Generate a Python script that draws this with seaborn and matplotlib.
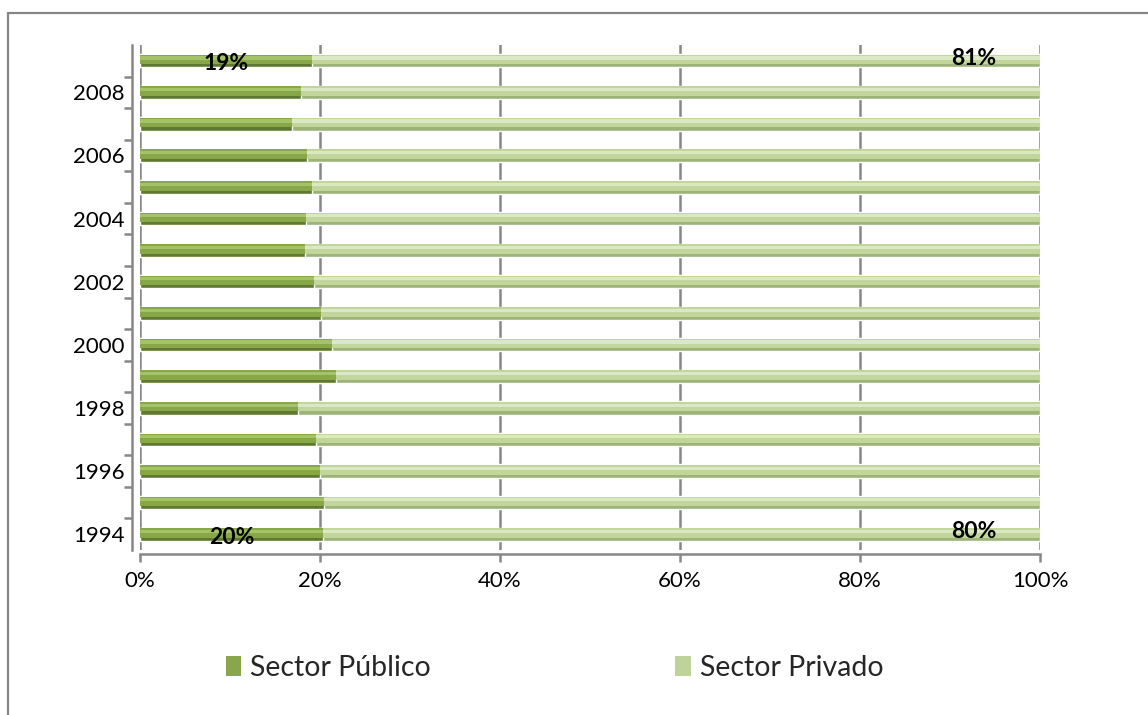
import numpy as np
import pandas as pd
import matplotlib
matplotlib.use("Agg")
import matplotlib.pyplot as plt
from matplotlib.lines import Line2D
from matplotlib.patches import Patch
import seaborn as sns

# Participación por sector (%) 1994-2009
years = [1994, 1995, 1996, 1997, 1998, 1999, 2000, 2001,
         2002, 2003, 2004, 2005, 2006, 2007, 2008, 2009]
publico = [20.3, 20.4, 20.0, 19.6, 17.6, 21.8, 21.3, 20.1,
           19.3, 18.3, 18.4, 19.1, 18.6, 16.9, 17.9, 19.1]
privado = [79.7, 79.6, 80.0, 80.4, 82.4, 78.2, 78.7, 79.9,
           80.7, 81.7, 81.6, 80.9, 81.4, 83.1, 82.1, 80.9]
x_ticks = [0, 20, 40, 60, 80, 100]
labeled_years = [1994, 2009]
series_names = ["Sector Público", "Sector Privado"]

sns.set_theme(style="white")
plt.rcParams["font.family"] = ["Lato", "DejaVu Sans"]

df = pd.DataFrame({"year": [str(y) for y in years],
                   "publico": publico, "privado": privado})
df["total"] = df["publico"] + df["privado"]
order = [str(y) for y in years]

fig = plt.figure(figsize=(11.48, 7.15), dpi=100)
ax = fig.add_axes([140 / 1148, 1 - 550 / 715, 900 / 1148, 505 / 715])

pub_dark, pub_mid, pub_hi = "#5f7a2e", "#87a748", "#a4c266"
pri_dark, pri_mid, pri_hi = "#9db478", "#c2d69c", "#dbe8c4"

bw = 0.42
# stacked 100% bars: full length in private colour, public share on top
sns.barplot(data=df, x="total", y="year", order=order, orient="h",
            color=pri_dark, width=bw, saturation=1, ax=ax, errorbar=None)
sns.barplot(data=df, x="publico", y="year", order=order, orient="h",
            color=pub_dark, width=bw, saturation=1, ax=ax, errorbar=None)

# cylinder-like shading bands
pos = np.arange(len(years))
tot = np.array(df["total"])
pub = np.array(publico)
ax.barh(pos + 0.04, tot - pub, left=pub, height=0.30, color=pri_mid, lw=0)
ax.barh(pos + 0.09, tot - pub, left=pub, height=0.10, color=pri_hi, lw=0)
ax.barh(pos + 0.04, pub, height=0.30, color=pub_mid, lw=0)
ax.barh(pos + 0.09, pub, height=0.10, color=pub_hi, lw=0)

ax.set_xlim(0, 100)
ax.set_ylim(-0.5, len(years) - 0.5)

grid_c = "#878787"
ax.set_xticks(x_ticks)
ax.set_xticklabels([f"{t}%" for t in x_ticks])
ax.xaxis.grid(True, color=grid_c, lw=1.8)
ax.yaxis.grid(False)
ax.set_axisbelow(True)

ax.set_yticks(pos[::2])
ax.set_yticklabels([str(y) for y in years[::2]])
ax.set_yticks(pos[:-1] + 0.5, minor=True)

for s in ["top", "right"]:
    ax.spines[s].set_visible(False)
for s in ["left", "bottom"]:
    ax.spines[s].set_color(grid_c)
    ax.spines[s].set_linewidth(1.8)
ax.spines["left"].set_position(("outward", 6))
ax.spines["bottom"].set_position(("outward", 3))

ax.tick_params(axis="y", which="major", length=0, pad=5, labelsize=16,
               labelcolor="black")
ax.tick_params(axis="y", which="minor", left=True, length=6, width=1.8,
               color=grid_c)
ax.tick_params(axis="x", which="major", bottom=True, length=6, width=1.8,
               color=grid_c, pad=6, labelsize=16, labelcolor="black")
ax.set_xlabel("")
ax.set_ylabel("")

# value labels on first and last year
for yr in labeled_years:
    i = years.index(yr)
    p, q = publico[i], privado[i]
    ax.text(p / 2, i - 0.1, f"{p:.0f}%", ha="center", va="center",
            fontsize=16.5, fontweight="bold", color="black")
    ax.text(92.6, i + 0.08, f"{q:.0f}%", ha="center", va="center",
            fontsize=16.5, fontweight="bold", color="black")

# legend
handles = [Patch(facecolor="#8aa64d", edgecolor="none"),
           Patch(facecolor="#bed39a", edgecolor="none")]
fig.legend(handles, series_names, loc="center", ncol=2,
           bbox_to_anchor=(0.483, 1 - 668 / 715), frameon=False,
           fontsize=20.5, handlelength=0.55, handleheight=0.7,
           handletextpad=0.3, columnspacing=8.6)

# outer chart border (left and top)
border_c = "#868686"
fig.add_artist(Line2D([8 / 1148, 8 / 1148], [0, 1 - 13 / 715],
                      transform=fig.transFigure, color=border_c, lw=1.6))
fig.add_artist(Line2D([8 / 1148, 1], [1 - 13 / 715, 1 - 13 / 715],
                      transform=fig.transFigure, color=border_c, lw=1.6))

fig.savefig("out.png", dpi=100, facecolor="white")
